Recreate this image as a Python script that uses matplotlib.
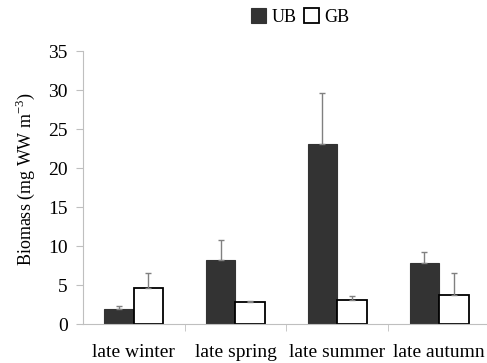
import numpy as np
import matplotlib
matplotlib.use("Agg")
import matplotlib.pyplot as plt

seasons = ["late winter", "late spring", "late summer", "late autumn"]
ub_mean = [2.0, 8.2, 23.1, 7.8]
ub_err = [0.3, 2.6, 6.5, 1.4]
gb_mean = [4.6, 2.8, 3.1, 3.8]
gb_err = [1.9, 0.2, 0.5, 2.7]

AXIS_GREY = "#bfbfbf"
ERR_GREY = "#808080"
DARK = "#333333"

plt.rcParams.update({
    "font.family": "Liberation Serif",
    "font.size": 14,
    "mathtext.fontset": "custom",
    "mathtext.rm": "Liberation Serif",
})

fig = plt.figure(figsize=(4.87, 3.63), dpi=100)
ax = fig.add_axes([0.170, 0.107, 0.836, 0.752])

x = np.arange(len(seasons))
w = 0.29
ax.bar(x - w / 2, ub_mean, w, color=DARK, edgecolor=DARK, linewidth=0.8, label="UB")
ax.bar(x + w / 2, gb_mean, w, color="white", edgecolor="black", linewidth=1.3, label="GB")
ax.errorbar(x - w / 2, ub_mean, yerr=[np.zeros(4), ub_err], fmt="none",
            ecolor=ERR_GREY, elinewidth=1, capsize=2.5, capthick=1)
ax.errorbar(x + w / 2, gb_mean, yerr=[np.zeros(4), gb_err], fmt="none",
            ecolor=ERR_GREY, elinewidth=1, capsize=2.5, capthick=1)

ax.set_xlim(-0.5, len(seasons) - 0.5)
ax.set_ylim(0, 35)
ax.set_yticks(np.arange(0, 36, 5))
ax.set_xticks(x)
ax.set_xticklabels(seasons)
ax.set_xticks(np.arange(0.5, len(seasons) - 0.5, 1), minor=True)
ax.tick_params(axis="x", which="major", length=0, pad=14.5)
ax.tick_params(axis="x", which="minor", length=5, color=AXIS_GREY)
ax.tick_params(axis="y", length=5, color=AXIS_GREY, pad=6)

for s in ["top", "right"]:
    ax.spines[s].set_visible(False)
for s in ["left", "bottom"]:
    ax.spines[s].set_color(AXIS_GREY)

ax.set_ylabel("Biomass (mg WW m$^{-3}$)", fontsize=13, y=0.53, labelpad=8)

fig.legend(loc="center", bbox_to_anchor=(0.616, 0.953), ncol=2, frameon=False,
           fontsize=13, handlelength=0.85, handleheight=0.85, handletextpad=0.3,
           columnspacing=0.4, borderaxespad=0)

fig.savefig("out.png", dpi=100)
